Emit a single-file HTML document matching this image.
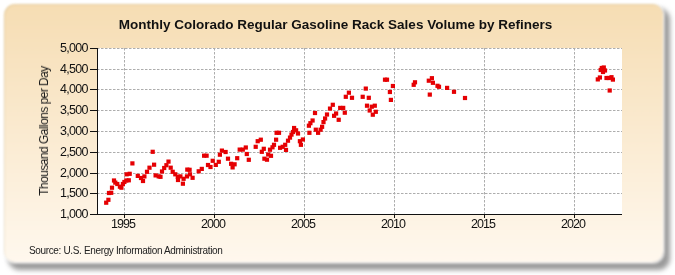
<!DOCTYPE html>
<html><head><meta charset="utf-8"><style>
html,body{margin:0;padding:0;background:#fff;}
body{width:675px;height:275px;position:relative;overflow:hidden;font-family:"Liberation Sans",sans-serif;}
.shadow{position:absolute;left:8px;top:8px;width:662px;height:262px;border-radius:12px;background:#9a9a9a;filter:blur(2.7px);}
.panel{position:absolute;left:3.5px;top:3.5px;width:659.5px;height:258.5px;border-radius:11px;background:linear-gradient(#f6ddb3,#fff8ee);box-shadow:inset 1px 1px 1px rgba(150,120,60,.15),0 0 0 1px rgba(255,255,255,.6),0.5px 0.5px 1px 1px rgba(255,255,255,.5);filter:blur(0.9px);}
.title{will-change:transform;position:absolute;left:-2.5px;width:675px;top:16.6px;text-align:center;font-weight:bold;font-size:13.5px;color:#111;white-space:nowrap;}
.yl{will-change:transform;position:absolute;left:29px;width:58.6px;text-align:right;font-size:12.5px;letter-spacing:-0.75px;color:#111;line-height:14px;}
.xl{will-change:transform;position:absolute;top:216.5px;width:60px;text-align:center;font-size:12.5px;letter-spacing:-1px;color:#111;line-height:14px;}
.ytitle{will-change:transform;position:absolute;left:44px;top:131px;transform:translate(-50%,-50%) rotate(-90deg);font-size:12px;letter-spacing:-0.55px;color:#1a1a1a;white-space:nowrap;line-height:12px;}
.src{will-change:transform;position:absolute;left:29px;top:245px;font-size:10px;color:#222;letter-spacing:-0.35px;white-space:nowrap;line-height:12px;}
svg{position:absolute;left:0;top:0;}
</style></head><body>
<div class="shadow"></div>
<div class="panel"></div>
<div class="title">Monthly Colorado Regular Gasoline Rack Sales Volume by Refiners</div>
<svg width="675" height="275" viewBox="0 0 675 275">
<rect x="98" y="48" width="524" height="166" fill="#fff"/>
<g stroke="#adadad" stroke-width="1" stroke-dasharray="2.5 1.5">
<line x1="97" x2="622" y1="48.5" y2="48.5"/>
<line x1="97" x2="622" y1="69.5" y2="69.5"/>
<line x1="97" x2="622" y1="89.5" y2="89.5"/>
<line x1="97" x2="622" y1="110.5" y2="110.5"/>
<line x1="97" x2="622" y1="131.5" y2="131.5"/>
<line x1="97" x2="622" y1="152.5" y2="152.5"/>
<line x1="97" x2="622" y1="173.5" y2="173.5"/>
<line x1="97" x2="622" y1="193.5" y2="193.5"/>
<line x1="124.5" x2="124.5" y1="48" y2="214"/>
<line x1="214.5" x2="214.5" y1="48" y2="214"/>
<line x1="304.5" x2="304.5" y1="48" y2="214"/>
<line x1="394.5" x2="394.5" y1="48" y2="214"/>
<line x1="484.5" x2="484.5" y1="48" y2="214"/>
<line x1="574.5" x2="574.5" y1="48" y2="214"/>
</g>
<g stroke="#111" stroke-width="1">
<line x1="97.5" x2="97.5" y1="48" y2="214.5"/>
<line x1="90" x2="622" y1="214.5" y2="214.5"/>

<line x1="90" x2="98" y1="48.5" y2="48.5"/>
<line x1="90" x2="98" y1="69.5" y2="69.5"/>
<line x1="90" x2="98" y1="89.5" y2="89.5"/>
<line x1="90" x2="98" y1="110.5" y2="110.5"/>
<line x1="90" x2="98" y1="131.5" y2="131.5"/>
<line x1="90" x2="98" y1="152.5" y2="152.5"/>
<line x1="90" x2="98" y1="173.5" y2="173.5"/>
<line x1="90" x2="98" y1="193.5" y2="193.5"/>
<line x1="90" x2="98" y1="214.5" y2="214.5"/>
<line x1="124.5" x2="124.5" y1="214" y2="218"/>
<line x1="214.5" x2="214.5" y1="214" y2="218"/>
<line x1="304.5" x2="304.5" y1="214" y2="218"/>
<line x1="394.5" x2="394.5" y1="214" y2="218"/>
<line x1="484.5" x2="484.5" y1="214" y2="218"/>
<line x1="574.5" x2="574.5" y1="214" y2="218"/>
</g>
<g fill="#e50003">
<rect x="104.1" y="200.6" width="4.2" height="4.2"/>
<rect x="106.3" y="197.7" width="4.2" height="4.2"/>
<rect x="106.9" y="190.9" width="4.2" height="4.2"/>
<rect x="109.1" y="190.7" width="4.2" height="4.2"/>
<rect x="109.9" y="185.6" width="4.2" height="4.2"/>
<rect x="111.9" y="178.4" width="4.2" height="4.2"/>
<rect x="113.2" y="180.5" width="4.2" height="4.2"/>
<rect x="115.2" y="181.9" width="4.2" height="4.2"/>
<rect x="117.8" y="184.6" width="4.2" height="4.2"/>
<rect x="119.3" y="185.6" width="4.2" height="4.2"/>
<rect x="120.8" y="181.9" width="4.2" height="4.2"/>
<rect x="122.3" y="179.9" width="4.2" height="4.2"/>
<rect x="124.2" y="178.4" width="4.2" height="4.2"/>
<rect x="126.7" y="178.2" width="4.2" height="4.2"/>
<rect x="124.5" y="172.2" width="4.2" height="4.2"/>
<rect x="127.6" y="171.7" width="4.2" height="4.2"/>
<rect x="130.3" y="161.3" width="4.2" height="4.2"/>
<rect x="150.6" y="149.7" width="4.2" height="4.2"/>
<rect x="135.7" y="173.8" width="4.2" height="4.2"/>
<rect x="138.9" y="175.9" width="4.2" height="4.2"/>
<rect x="140.9" y="178.9" width="4.2" height="4.2"/>
<rect x="142.3" y="174.3" width="4.2" height="4.2"/>
<rect x="144.9" y="169.7" width="4.2" height="4.2"/>
<rect x="147.4" y="165.6" width="4.2" height="4.2"/>
<rect x="152.0" y="162.6" width="4.2" height="4.2"/>
<rect x="153.5" y="173.3" width="4.2" height="4.2"/>
<rect x="156.6" y="174.3" width="4.2" height="4.2"/>
<rect x="158.4" y="174.7" width="4.2" height="4.2"/>
<rect x="159.9" y="169.4" width="4.2" height="4.2"/>
<rect x="162.1" y="165.9" width="4.2" height="4.2"/>
<rect x="164.3" y="163.1" width="4.2" height="4.2"/>
<rect x="166.4" y="159.5" width="4.2" height="4.2"/>
<rect x="168.6" y="165.6" width="4.2" height="4.2"/>
<rect x="170.6" y="169.7" width="4.2" height="4.2"/>
<rect x="173.2" y="172.2" width="4.2" height="4.2"/>
<rect x="175.7" y="174.8" width="4.2" height="4.2"/>
<rect x="175.9" y="177.9" width="4.2" height="4.2"/>
<rect x="178.3" y="174.3" width="4.2" height="4.2"/>
<rect x="181.5" y="176.7" width="4.2" height="4.2"/>
<rect x="180.8" y="181.6" width="4.2" height="4.2"/>
<rect x="185.2" y="167.5" width="4.2" height="4.2"/>
<rect x="187.5" y="167.7" width="4.2" height="4.2"/>
<rect x="184.9" y="174.3" width="4.2" height="4.2"/>
<rect x="187.9" y="172.2" width="4.2" height="4.2"/>
<rect x="190.5" y="175.7" width="4.2" height="4.2"/>
<rect x="196.6" y="169.2" width="4.2" height="4.2"/>
<rect x="199.7" y="166.8" width="4.2" height="4.2"/>
<rect x="202.0" y="153.6" width="4.2" height="4.2"/>
<rect x="204.5" y="153.6" width="4.2" height="4.2"/>
<rect x="205.9" y="162.9" width="4.2" height="4.2"/>
<rect x="208.4" y="164.9" width="4.2" height="4.2"/>
<rect x="210.6" y="158.7" width="4.2" height="4.2"/>
<rect x="213.7" y="162.8" width="4.2" height="4.2"/>
<rect x="216.7" y="159.7" width="4.2" height="4.2"/>
<rect x="217.8" y="152.6" width="4.2" height="4.2"/>
<rect x="219.8" y="148.5" width="4.2" height="4.2"/>
<rect x="223.5" y="149.9" width="4.2" height="4.2"/>
<rect x="225.9" y="156.6" width="4.2" height="4.2"/>
<rect x="229.0" y="161.7" width="4.2" height="4.2"/>
<rect x="230.5" y="165.3" width="4.2" height="4.2"/>
<rect x="232.5" y="162.2" width="4.2" height="4.2"/>
<rect x="235.1" y="156.1" width="4.2" height="4.2"/>
<rect x="237.6" y="147.5" width="4.2" height="4.2"/>
<rect x="240.7" y="147.5" width="4.2" height="4.2"/>
<rect x="243.7" y="145.4" width="4.2" height="4.2"/>
<rect x="244.7" y="151.9" width="4.2" height="4.2"/>
<rect x="246.7" y="157.7" width="4.2" height="4.2"/>
<rect x="253.6" y="144.7" width="4.2" height="4.2"/>
<rect x="255.6" y="139.1" width="4.2" height="4.2"/>
<rect x="258.7" y="137.6" width="4.2" height="4.2"/>
<rect x="259.7" y="149.7" width="4.2" height="4.2"/>
<rect x="261.7" y="146.7" width="4.2" height="4.2"/>
<rect x="262.3" y="156.6" width="4.2" height="4.2"/>
<rect x="264.9" y="157.6" width="4.2" height="4.2"/>
<rect x="266.1" y="152.4" width="4.2" height="4.2"/>
<rect x="268.9" y="153.7" width="4.2" height="4.2"/>
<rect x="267.9" y="147.6" width="4.2" height="4.2"/>
<rect x="270.4" y="145.2" width="4.2" height="4.2"/>
<rect x="271.9" y="142.7" width="4.2" height="4.2"/>
<rect x="274.0" y="137.6" width="4.2" height="4.2"/>
<rect x="274.5" y="130.7" width="4.2" height="4.2"/>
<rect x="276.9" y="130.7" width="4.2" height="4.2"/>
<rect x="278.0" y="145.7" width="4.2" height="4.2"/>
<rect x="280.6" y="144.7" width="4.2" height="4.2"/>
<rect x="283.1" y="142.7" width="4.2" height="4.2"/>
<rect x="283.9" y="147.8" width="4.2" height="4.2"/>
<rect x="285.9" y="138.6" width="4.2" height="4.2"/>
<rect x="287.9" y="135.5" width="4.2" height="4.2"/>
<rect x="289.4" y="132.5" width="4.2" height="4.2"/>
<rect x="290.9" y="129.9" width="4.2" height="4.2"/>
<rect x="292.0" y="125.9" width="4.2" height="4.2"/>
<rect x="294.0" y="128.2" width="4.2" height="4.2"/>
<rect x="295.9" y="131.4" width="4.2" height="4.2"/>
<rect x="297.8" y="139.1" width="4.2" height="4.2"/>
<rect x="298.8" y="142.7" width="4.2" height="4.2"/>
<rect x="300.8" y="137.4" width="4.2" height="4.2"/>
<rect x="306.8" y="123.6" width="4.2" height="4.2"/>
<rect x="308.3" y="121.1" width="4.2" height="4.2"/>
<rect x="307.3" y="130.7" width="4.2" height="4.2"/>
<rect x="310.5" y="118.4" width="4.2" height="4.2"/>
<rect x="312.9" y="110.9" width="4.2" height="4.2"/>
<rect x="313.7" y="127.6" width="4.2" height="4.2"/>
<rect x="316.0" y="130.7" width="4.2" height="4.2"/>
<rect x="318.5" y="127.6" width="4.2" height="4.2"/>
<rect x="320.0" y="124.7" width="4.2" height="4.2"/>
<rect x="321.4" y="120.0" width="4.2" height="4.2"/>
<rect x="323.0" y="116.4" width="4.2" height="4.2"/>
<rect x="324.9" y="112.4" width="4.2" height="4.2"/>
<rect x="327.9" y="106.5" width="4.2" height="4.2"/>
<rect x="330.7" y="102.7" width="4.2" height="4.2"/>
<rect x="332.0" y="113.7" width="4.2" height="4.2"/>
<rect x="334.0" y="111.4" width="4.2" height="4.2"/>
<rect x="336.6" y="117.7" width="4.2" height="4.2"/>
<rect x="338.1" y="105.8" width="4.2" height="4.2"/>
<rect x="341.1" y="105.8" width="4.2" height="4.2"/>
<rect x="342.7" y="110.6" width="4.2" height="4.2"/>
<rect x="343.7" y="94.7" width="4.2" height="4.2"/>
<rect x="346.8" y="90.6" width="4.2" height="4.2"/>
<rect x="349.9" y="95.7" width="4.2" height="4.2"/>
<rect x="360.6" y="94.7" width="4.2" height="4.2"/>
<rect x="363.7" y="86.5" width="4.2" height="4.2"/>
<rect x="366.7" y="95.7" width="4.2" height="4.2"/>
<rect x="364.9" y="103.6" width="4.2" height="4.2"/>
<rect x="367.6" y="108.4" width="4.2" height="4.2"/>
<rect x="369.7" y="104.6" width="4.2" height="4.2"/>
<rect x="372.7" y="103.6" width="4.2" height="4.2"/>
<rect x="373.7" y="109.7" width="4.2" height="4.2"/>
<rect x="370.7" y="112.6" width="4.2" height="4.2"/>
<rect x="382.9" y="77.6" width="4.2" height="4.2"/>
<rect x="384.9" y="77.6" width="4.2" height="4.2"/>
<rect x="390.8" y="83.9" width="4.2" height="4.2"/>
<rect x="387.8" y="89.9" width="4.2" height="4.2"/>
<rect x="388.8" y="97.8" width="4.2" height="4.2"/>
<rect x="411.6" y="82.7" width="4.2" height="4.2"/>
<rect x="412.9" y="80.2" width="4.2" height="4.2"/>
<rect x="426.7" y="78.6" width="4.2" height="4.2"/>
<rect x="429.8" y="76.1" width="4.2" height="4.2"/>
<rect x="430.8" y="80.7" width="4.2" height="4.2"/>
<rect x="427.7" y="92.5" width="4.2" height="4.2"/>
<rect x="435.4" y="83.7" width="4.2" height="4.2"/>
<rect x="436.9" y="84.7" width="4.2" height="4.2"/>
<rect x="445.0" y="85.8" width="4.2" height="4.2"/>
<rect x="451.9" y="89.7" width="4.2" height="4.2"/>
<rect x="462.9" y="95.9" width="4.2" height="4.2"/>
<rect x="595.7" y="77.3" width="4.2" height="4.2"/>
<rect x="597.8" y="75.4" width="4.2" height="4.2"/>
<rect x="598.6" y="67.9" width="4.2" height="4.2"/>
<rect x="599.7" y="65.9" width="4.2" height="4.2"/>
<rect x="601.7" y="65.4" width="4.2" height="4.2"/>
<rect x="602.9" y="68.4" width="4.2" height="4.2"/>
<rect x="600.9" y="69.9" width="4.2" height="4.2"/>
<rect x="604.4" y="75.9" width="4.2" height="4.2"/>
<rect x="606.7" y="75.9" width="4.2" height="4.2"/>
<rect x="609.4" y="75.1" width="4.2" height="4.2"/>
<rect x="610.8" y="77.5" width="4.2" height="4.2"/>
<rect x="607.6" y="88.4" width="4.2" height="4.2"/>
</g>
</svg>
<div class="yl" style="top:40.7px">5,000</div>
<div class="yl" style="top:61.7px">4,500</div>
<div class="yl" style="top:81.7px">4,000</div>
<div class="yl" style="top:102.7px">3,500</div>
<div class="yl" style="top:123.7px">3,000</div>
<div class="yl" style="top:144.7px">2,500</div>
<div class="yl" style="top:165.7px">2,000</div>
<div class="yl" style="top:185.7px">1,500</div>
<div class="yl" style="top:206.7px">1,000</div>
<div class="xl" style="left:93.2px">1995</div>
<div class="xl" style="left:183.2px">2000</div>
<div class="xl" style="left:273.2px">2005</div>
<div class="xl" style="left:363.2px">2010</div>
<div class="xl" style="left:453.2px">2015</div>
<div class="xl" style="left:543.2px">2020</div>
<div class="ytitle">Thousand Gallons per Day</div>
<div class="src">Source: U.S. Energy Information Administration</div>
</body></html>
